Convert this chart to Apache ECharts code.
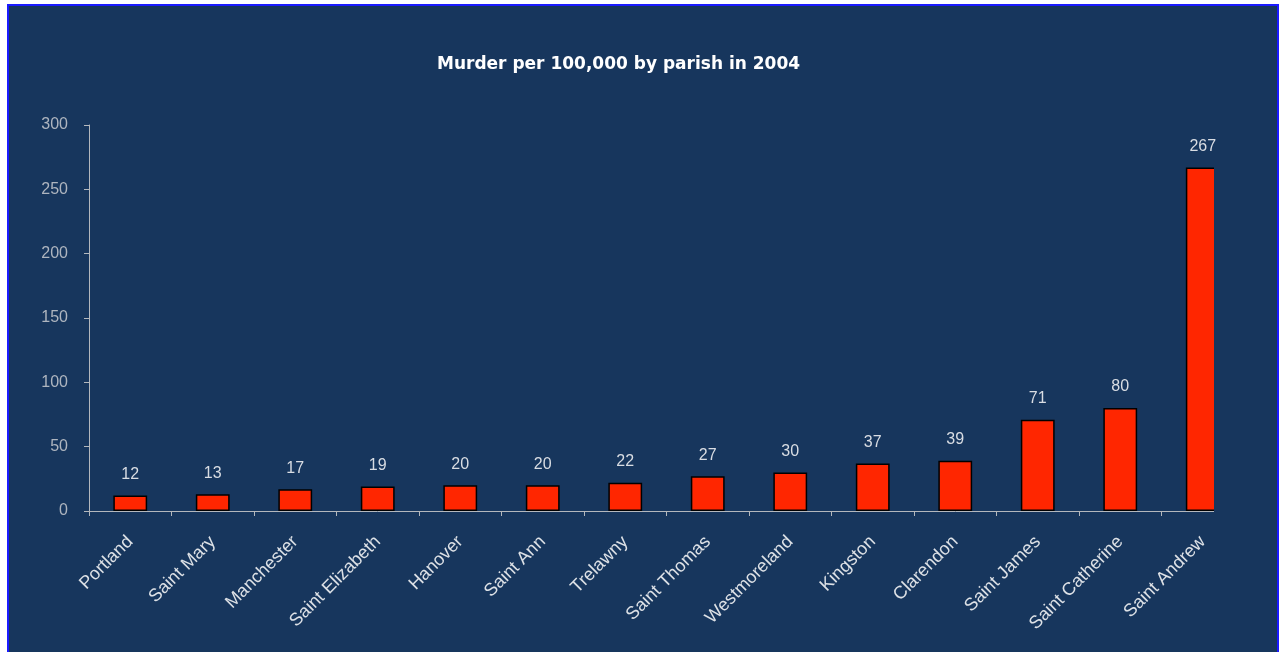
<!DOCTYPE html>
<html>
<head>
<meta charset="utf-8">
<script src="https://cdn.jsdelivr.net/npm/echarts@6/dist/echarts.min.js"></script>
<style>
  html, body { margin: 0; padding: 0; background: #fff; }
  #frame {
    position: absolute; left: 7px; top: 4px; width: 1272px; height: 660px;
    box-sizing: border-box; border: 2px solid #1a1aff; background: #17365d;
  }
  #chart { position: absolute; left: -9px; top: -6px; width: 1281px; height: 652px; }
</style>
</head>
<body>
<div id="frame"><div id="chart"></div></div>
<script>
const parishes = [
  "Portland", "Saint Mary", "Manchester", "Saint Elizabeth", "Hanover",
  "Saint Ann", "Trelawny", "Saint Thomas", "Westmoreland", "Kingston",
  "Clarendon", "Saint James", "Saint Catherine", "Saint Andrew",
];
const murders = [12, 13, 17, 19, 20, 20, 22, 27, 30, 37, 39, 71, 80, 267];
const yTicks = [0, 50, 100, 150, 200, 250, 300];

const chart = echarts.init(document.getElementById("chart"));
chart.setOption({
  backgroundColor: "transparent",
  animation: false,
  title: {
    text: "Murder per 100,000 by parish in 2004",
    left: 432,
    top: 51,
    textStyle: { color: "#ffffff", fontSize: 17, fontWeight: 600, fontFamily: "DejaVu Sans" },
  },
  // the original plot area is clipped on the right, cutting the last bar
  graphic: [{
    type: "rect",
    left: 1214,
    top: 160,
    z: 100,
    shape: { width: 54, height: 360 },
    style: { fill: "#17365d" },
  }],
  grid: { left: 89, right: 37, top: 125, bottom: 141 },
  xAxis: {
    type: "category",
    data: parishes,
    axisLine: { lineStyle: { color: "#b4b8bd", width: 1 } },
    axisTick: { show: true, alignWithLabel: false, length: 5, lineStyle: { color: "#b4b8bd" } },
    axisLabel: {
      rotate: 45, color: "#dde1e6", fontSize: 18, fontFamily: "Liberation Sans",
      interval: 0, margin: 28,
    },
  },
  yAxis: {
    type: "value",
    min: yTicks[0],
    max: yTicks[yTicks.length - 1],
    interval: 50,
    axisLine: { show: true, lineStyle: { color: "#b4b8bd" } },
    axisTick: { show: true, length: 5, lineStyle: { color: "#b4b8bd" } },
    axisLabel: { color: "#aeb5bf", fontSize: 16, fontFamily: "Liberation Sans", margin: 21 },
    splitLine: { show: false },
  },
  series: [{
    type: "bar",
    data: murders,
    barWidth: "41%",
    itemStyle: { color: "#ff2600", borderColor: "#000000", borderWidth: 1.5 },
    label: {
      show: true, position: "top", distance: 13,
      color: "#d9dde3", fontSize: 16, fontFamily: "Liberation Sans",
    },
  }],
});
</script>
</body>
</html>
